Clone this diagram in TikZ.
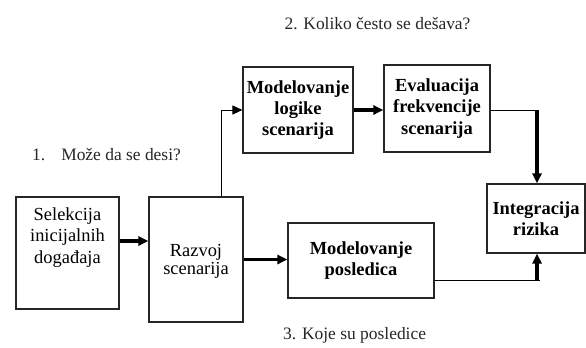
\documentclass[tikz,border=0pt]{standalone}
\usepackage{fontspec}
\setmainfont{Liberation Serif}
\usetikzlibrary{arrows.meta,calc}
\tikzset{
  box/.style={draw=black!85,line width=1.1bp,align=center,inner sep=0pt,font=\fontsize{18.5}{21.5}\selectfont},
  boldbox/.style={box,font=\fontsize{18.5}{21.5}\selectfont\bfseries},
  thin/.style={line width=1bp,draw=black},
  thk/.style={line width=3.2bp,draw=black},
  arr/.style={-{Triangle[length=10bp,width=9bp]}},
  lbl/.style={font=\fontsize{17.5}{20}\selectfont,inner sep=0pt,text=black!85}
}
\begin{document}
\begin{tikzpicture}[x=1bp,y=1bp]
\useasboundingbox (0,0) rectangle (586,347);
% boxes
\node[box,minimum width=103bp,minimum height=112bp] (sel) at (67.5,94) {Selekcija\\inicijalnih\\događaja\\[14bp]};
\node[box,minimum width=94bp,minimum height=125bp,font=\fontsize{18.5}{18}\selectfont] (raz) at (196,87.5) {\\[-2bp]Razvoj\\scenarija};
\node[boldbox,minimum width=146bp,minimum height=75bp] (pos) at (361,86.5) {Modelovanje\\posledica};
\node[boldbox,minimum width=98bp,minimum height=69bp] (integ) at (536,128.5) {Integracija\\rizika};
\node[boldbox,minimum width=110bp,minimum height=86bp] (log) at (298,237) {Modelovanje\\logike\\scenarija};
\node[boldbox,minimum width=106bp,minimum height=87bp] (ev) at (437,238.5) {Evaluacija\\frekvencije\\scenarija};
% labels
\node[lbl] (l2) at (377.5,323) {2. Koliko često se dešava?};
\node[lbl,anchor=west] (l1) at (32,192) {1.\hspace{16bp}Može da se desi?};
\node[lbl,anchor=west] (l3) at (283,12) {3. Koje su posledice};
% connectors
\coordinate (a1) at ($(sel.east)+(0,12)$);
\draw[thk,arr] (a1) -- (a1 -| raz.west);
\draw[thk,arr] (raz.east) -- (raz.east -| pos.west);
\coordinate (a2) at ($(raz.north)+(25,0)$);
\draw[thin,arr] (a2) |- (log.west);
\draw[thk,arr] (log.east) -- (log.east -| ev.west);
\coordinate (c1) at ($(log.east -| integ.north)+(1,0)$);
\draw[thin] (log.east -| ev.east) -- (c1);
\draw[thk,arr] (c1) -- (c1 |- integ.north);
\coordinate (c2) at ($(pos.east)+(0,-19.5)$);
\coordinate (c3) at ($(c2 -| integ.south)+(1,0)$);
\draw[thin] (c2) -- ($(c3)+(3,0)$);
\draw[thk,arr] (c3) -- (c3 |- integ.south);
\end{tikzpicture}
\end{document}
